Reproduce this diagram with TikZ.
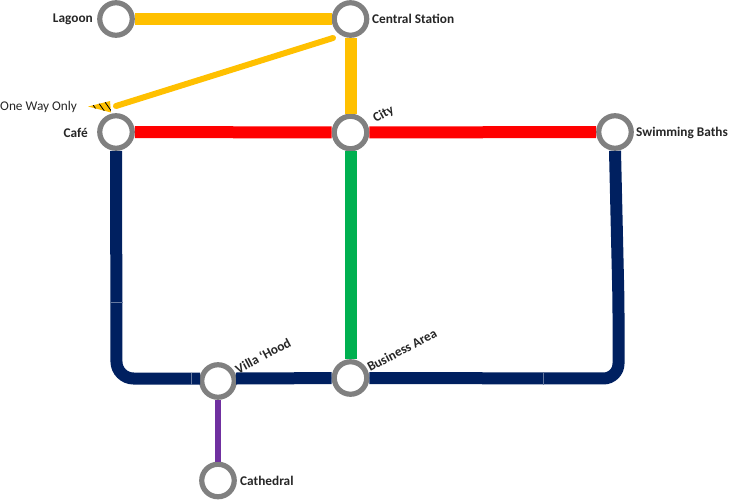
\documentclass[tikz,border=0pt]{standalone}
\usepackage{fontspec}
\setmainfont{Carlito}
\definecolor{lineYellow}{HTML}{FFC000}
\definecolor{lineRed}{HTML}{FF0000}
\definecolor{lineGreen}{HTML}{00B050}
\definecolor{lineBlue}{HTML}{002060}
\definecolor{linePurple}{HTML}{7030A0}
\definecolor{ringGray}{HTML}{808080}
\begin{document}
\begin{tikzpicture}[
    x=1pt, y=-1pt,
    % stations and their labels
    stationStyle/.style={circle, draw=ringGray, fill=white, line width=5.2pt, minimum size=32.5pt, inner sep=0pt},
    labelStyle/.style={font=\fontsize{13.3}{15}\selectfont\bfseries, text=black!85, inner sep=0pt},
    tiltStyle/.style={labelStyle, anchor=west, rotate=28},
    % track pieces
    trackStyle/.style={line width=12pt},
    seamStyle/.style={line width=0.4pt, draw=white!40!lineBlue}
]
    \useasboundingbox (0,0) rectangle (730,500);

    % Stations
    \node[stationStyle] (lagoon) at (116,19) {};
    \node[stationStyle] (central) at (350.5,19) {};
    \node[stationStyle] (cafe) at (116,132) {};
    \node[stationStyle] (city) at (350.5,132.5) {};
    \node[stationStyle] (baths) at (615,132) {};
    \node[stationStyle] (villa) at (218,381) {};
    \node[stationStyle] (business) at (350.5,378) {};
    \node[stationStyle] (cathedral) at (218,480.5) {};

    % Turning points of the blue line
    \coordinate (cornerLeft) at (116.5,378.5);
    \coordinate (cornerRight) at (618.5,378.5);
    \coordinate (bendRight) at (618.5,302);
    \coordinate (villaLeft) at (200,378.5);
    \coordinate (villaRight) at (236,378.5);

    % Yellow line
    \draw[trackStyle, lineYellow] (lagoon) -- (central);
    \draw[trackStyle, lineYellow] (central) -- (city);
    \coordinate (oneWayStart) at (333,38);
    \coordinate (oneWayEnd) at (116,106);
    \draw[lineYellow, line width=6pt, line cap=round] (oneWayStart) -- (oneWayEnd);

    % Red line
    \draw[trackStyle, lineRed] (cafe) -- (city);
    \draw[trackStyle, lineRed] (city) -- (baths);

    % Green line
    \draw[trackStyle, lineGreen] (city) -- (business);

    % Blue line
    \draw[trackStyle, lineBlue, rounded corners=17pt] (cafe) -- (cornerLeft) -- (villaLeft);
    \draw[trackStyle, lineBlue] (villaRight) -- (business);
    \draw[trackStyle, lineBlue, rounded corners=15pt] (business) -- (cornerRight) -- (bendRight) -- (baths.south);
    \draw[seamStyle] (110.5,302) -- (122.5,302);
    \draw[seamStyle] (191.5,372.5) -- (191.5,384.5);
    \draw[seamStyle] (543.5,372.5) -- (543.5,384.5);

    % Purple line
    \draw[linePurple, line width=6pt] (villa) -- (cathedral);

    % One way arrow
    \coordinate (tipA) at (88,106.5);
    \coordinate (tipB) at (110,101);
    \coordinate (tipC) at (111,112.5);
    \fill[lineYellow] (tipA) -- (tipB) -- (tipC) -- cycle;
    \begin{scope}
        \clip (tipA) -- (tipB) -- (tipC) -- cycle;
        \foreach \hatchX in {95,102,109}
            \draw[black, line width=0.8pt] (\hatchX-4,102) -- (\hatchX+3,112);
    \end{scope}

    % Labels
    \node[labelStyle, anchor=east] (lagoonLabel) at (93,19) {Lagoon};
    \node[labelStyle, anchor=west] (centralLabel) at (372,19) {Central Station};
    \node[labelStyle, anchor=east] (cafeLabel) at (88,132.5) {Café};
    \node[labelStyle, anchor=west] (bathsLabel) at (636,132.5) {Swimming Baths};
    \node[labelStyle, anchor=west] (cathedralLabel) at (240,480.5) {Cathedral};
    \node[tiltStyle] (cityLabel) at (374,119.5) {City};
    \node[tiltStyle] (villaLabel) at (236,370) {Villa ‘Hood};
    \node[tiltStyle] (businessLabel) at (368,368) {Business Area};
    \node[anchor=west, inner sep=0pt, font=\fontsize{13.3}{15}\selectfont, text=black!85] (oneWayLabel) at (0,106.5) {One Way Only};
\end{tikzpicture}
\end{document}
